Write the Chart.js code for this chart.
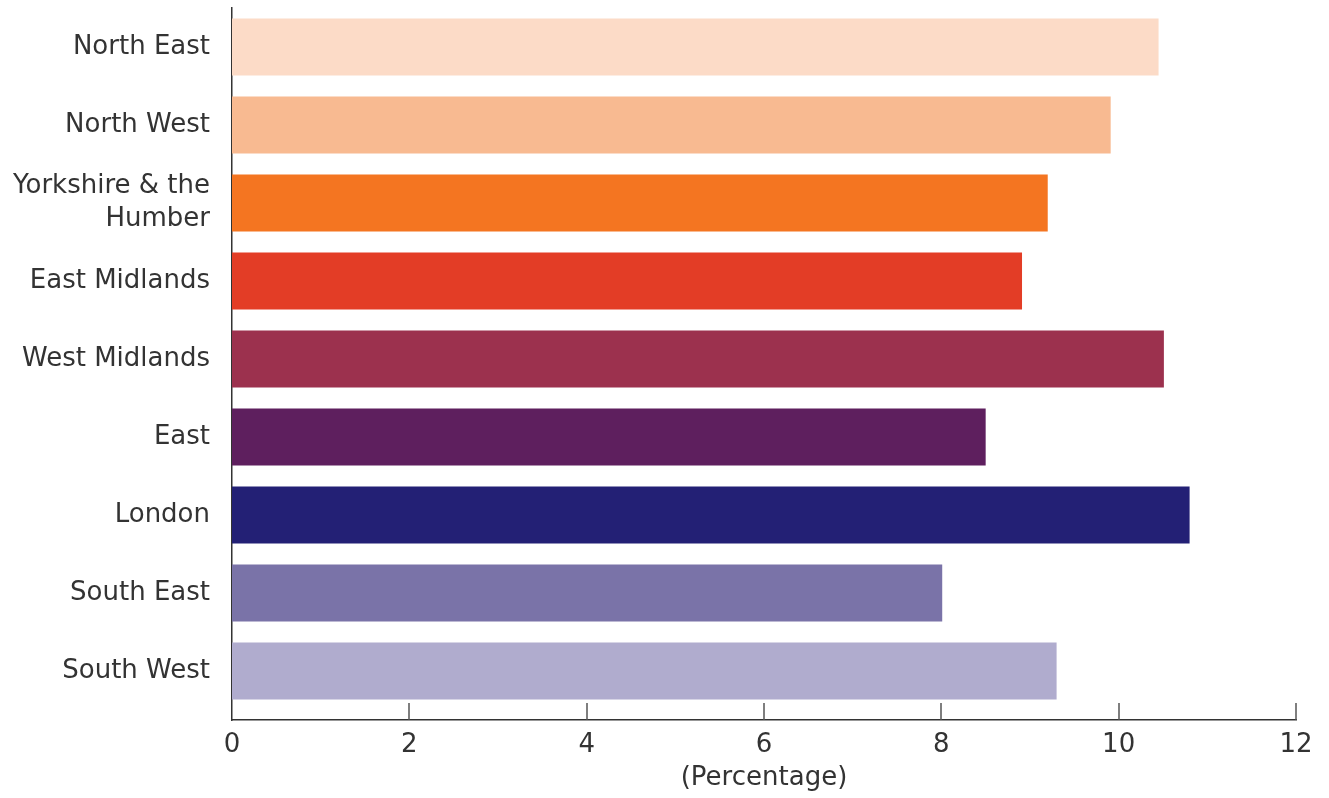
<!DOCTYPE html>
<html>
<head>
<meta charset="utf-8">
<script src="https://cdn.jsdelivr.net/npm/chart.js@4/dist/chart.umd.min.js"></script>
<style>
  html, body { margin: 0; padding: 0; background: #fff; }
  canvas { display: block; }
</style>
</head>
<body>
<canvas id="region-chart" width="1329" height="798"></canvas>
<script>
// Regions (top to bottom) and their percentages
const regions = ["North East", "North West", ["Yorkshire & the", "Humber"], "East Midlands",
    "West Midlands", "East", "London", "South East", "South West"];
const percentages = [10.45, 9.91, 9.2, 8.91, 10.51, 8.5, 10.8, 8.01, 9.3];
const regionColours = ["#FCDBC7", "#F8BA91", "#F47521", "#E33D26", "#9C314E",
    "#5E1F5E", "#232075", "#7A73A8", "#B0ACCE"];
const xTicks = [0, 2, 4, 6, 8, 10, 12];

const fontFamily = "'DejaVu Sans', sans-serif";
const textColour = "#333333";

// small ticks pointing up from the x axis
const innerTicks = {
    id: 'innerTicks',
    afterDraw(chart) {
        const ctx = chart.ctx;
        const xScale = chart.scales.x;
        const bottom = chart.chartArea.bottom;
        ctx.save();
        ctx.strokeStyle = "#555";
        ctx.lineWidth = 1.5;
        xTicks.forEach(v => {
            if (v === 0) return;
            const px = Math.round(xScale.getPixelForValue(v));
            ctx.beginPath();
            ctx.moveTo(px, bottom);
            ctx.lineTo(px, bottom - 17);
            ctx.stroke();
        });
        ctx.restore();
    }
};

function initChart() {
    const ctx = document.getElementById("region-chart").getContext("2d");

    new Chart(ctx, {
        type: 'bar',
        data: {
            datasets: [{
                data: percentages.map((p, i) => ({ x: p, y: i })),
                backgroundColor: regionColours,
                borderWidth: 0,
                categoryPercentage: 0.73,
                barPercentage: 1,
            }]
        },
        options: {
            indexAxis: 'y',
            responsive: false,
            animation: false,
            layout: { padding: { top: 8, right: 33 } },
            plugins: {
                legend: { display: false },
                tooltip: { enabled: false }
            },
            scales: {
                x: {
                    type: 'linear',
                    min: 0,
                    max: 12,
                    afterBuildTicks: scale => { scale.ticks = xTicks.map(v => ({ value: v })); },
                    grid: { display: false },
                    border: { display: true, color: "#333", width: 1.5 },
                    ticks: {
                        padding: 2,
                        color: textColour,
                        font: { family: fontFamily, size: 26 }
                    },
                    title: {
                        display: true,
                        text: "(Percentage)",
                        color: textColour,
                        font: { family: fontFamily, size: 26 },
                        padding: { top: 0, bottom: 4 }
                    },
                    afterFit: scale => { scale.height = 78; }
                },
                y: {
                    type: 'linear',
                    reverse: true,
                    offset: false,
                    min: -0.5,
                    max: 8.628,
                    grid: { display: false },
                    border: { display: true, color: "#333", width: 1.5 },
                    ticks: {
                        stepSize: 1,
                        includeBounds: false,
                        autoSkip: false,
                        padding: 14,
                        color: textColour,
                        font: { family: fontFamily, size: 26, lineHeight: 1.28 },
                        callback: v => Number.isInteger(v) && regions[v] !== undefined ? regions[v] : ''
                    },
                    afterFit: scale => {
                        scale.width = 232;
                        scale.paddingTop = 0;
                        scale.paddingBottom = 0;
                    }
                }
            }
        },
        plugins: [innerTicks]
    });
}

window.addEventListener('load', initChart);
</script>
</body>
</html>
